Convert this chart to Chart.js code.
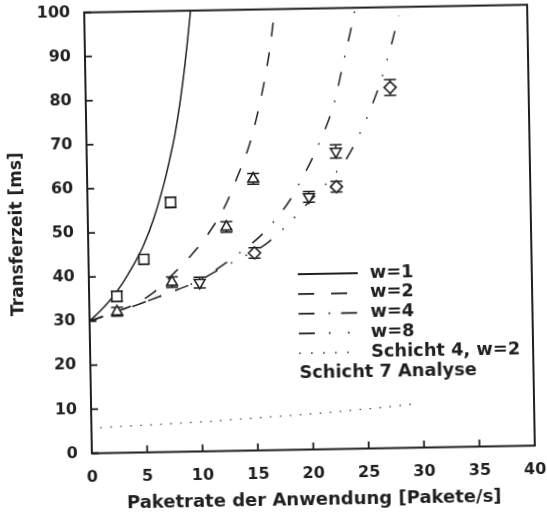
<!DOCTYPE html>
<html>
<head>
<meta charset="utf-8">
<script src="https://cdn.jsdelivr.net/npm/chart.js@4.4.1/dist/chart.umd.min.js"></script>
<style>
  html, body { margin: 0; padding: 0; background: #fff; overflow: hidden; }
  #wrap { position: relative; width: 547px; height: 513px; transform: rotate(-1deg); transform-origin: 309.5px 229px; }
  canvas { display: block; }
</style>
</head>
<body>
<div id="wrap"><canvas id="chart" width="547" height="513"></canvas></div>
<script>
// ---- Analytical curves (Schicht 7 analysis), transfer time over packet rate ----
const rateW1 = [0, 1, 2, 3, 4, 5, 6, 7, 7.5, 8, 8.5, 9, 9.3, 9.6];
const timeW1 = [30, 32.3, 35, 38.3, 42.3, 47, 53.3, 61.5, 66.5, 72, 79, 87.5, 93.5, 100];

const rateW2 = [0, 2, 3.9, 5.8, 7.6, 9.2, 10.9, 12.5, 13.6, 14.7, 15.4, 16.1, 16.7, 17.1, 17.2];
const timeW2 = [30, 31.7, 33.4, 36.2, 40.3, 44.3, 49.5, 56, 62.3, 69.3, 75.5, 83, 91, 98, 100];

const rateW4 = [0, 2, 4, 6, 8, 10, 12, 14, 15.5, 17, 18.3, 19.3, 20.3, 21.2, 22, 22.6, 23.1, 23.6, 24.1, 24.5];
const timeW4 = [30, 31.6, 33.2, 35, 36.8, 38.8, 42, 45.5, 48.5, 52.5, 56.7, 61, 65.7, 70.5, 75.3, 80, 85.3, 90.5, 95.6, 100];

const rateW8 = [0, 2, 4, 6, 8, 10, 12, 14, 16, 18, 19.5, 21.5, 23.5, 24.8, 25.9, 26.9, 27.7, 28.4];
const timeW8 = [30, 31.6, 33.2, 35, 36.8, 38.8, 41.5, 44, 46.7, 51, 54.9, 60, 66, 72, 78.2, 85, 91.7, 98];

// Schicht 4, w=2
const rateL4 = [0.8, 5, 10, 15, 20, 25, 29.6];
const timeL4 = [5.8, 6.2, 6.7, 7.4, 8.1, 9.0, 10.0];

// ---- Measured values with error ranges ----
const rateW1Meas = [2.5, 5, 7.5];
const timeW1Meas = [35.5, 43.8, 56.6];
const errW1Meas  = [1.2, 0, 1.2];

const rateW2Meas = [2.5, 7.5, 12.5, 15];
const timeW2Meas = [32, 38.5, 50.8, 61.6];
const errW2Meas  = [1.0, 1.2, 1.2, 1.2];

const rateW4Meas = [10, 20, 22.5];
const timeW4Meas = [38.3, 57.3, 67.5];
const errW4Meas  = [1.2, 1.2, 1.5];

const rateW8Meas = [15, 22.5, 27.5];
const timeW8Meas = [44.8, 59.5, 81.8];
const errW8Meas  = [1.2, 1.2, 1.8];

// ---- Axis settings ----
const xMin = 0, xMax = 40, xStep = 5;
const yMin = 0, yMax = 100, yStep = 10;
const xTitle = 'Paketrate der Anwendung [Pakete/s]';
const yTitle = 'Transferzeit [ms]';
const analysisCaption = 'Schicht 7 Analyse';

const INK = '#1f1f1f';
const FONT = '"DejaVu Sans", "Liberation Sans", sans-serif';

const pts = (xs, ys) => xs.map((x, i) => ({ x, y: ys[i] }));

function curve(label, xs, ys, dash, legendDash, width, color) {
  return {
    type: 'scatter', label, data: pts(xs, ys), showLine: true,
    borderColor: color || INK, borderWidth: width || 1.5, borderDash: dash,
    pointRadius: 0, cubicInterpolationMode: 'monotone', fill: false,
    legendDash, order: 2
  };
}

function measured(label, xs, ys, errs, style, radius, rotation) {
  return {
    type: 'scatter', label, data: pts(xs, ys), yErr: errs,
    pointStyle: style, pointRadius: radius, pointRotation: rotation || 0,
    pointBorderWidth: 1.6, borderColor: INK, pointBorderColor: INK,
    pointBackgroundColor: '#ffffff', backgroundColor: '#ffffff',
    showLine: false, order: 1
  };
}

const datasets = [
  measured('Messung w=1', rateW1Meas, timeW1Meas, errW1Meas, 'rect', 7),
  measured('Messung w=2', rateW2Meas, timeW2Meas, errW2Meas, 'triangle', 6.2),
  measured('Messung w=4', rateW4Meas, timeW4Meas, errW4Meas, 'triangle', 6.2, 180),
  measured('Messung w=8', rateW8Meas, timeW8Meas, errW8Meas, 'rectRot', 6),
  curve('w=1', rateW1, timeW1, [], [], 1.5),
  curve('w=2', rateW2, timeW2, [14, 16], [16, 17], 1.5),
  curve('w=4', rateW4, timeW4, [14, 15, 1.5, 15], [16, 14, 1.6, 11, 16, 100], 1.5),
  curve('w=8', rateW8, timeW8, [14, 15, 1.5, 15, 1.5, 15], [16, 14, 1.6, 17.5, 1.6, 100], 1.5),
  curve('Schicht 4, w=2', rateL4, timeL4, [1.5, 8.5], [1.5, 10.5], 1.3, '#444')
];

// Error ranges drawn beneath the markers
const errorBars = {
  id: 'errorBars',
  beforeDatasetsDraw(chart) {
    const { ctx, scales: { x, y } } = chart;
    ctx.save();
    ctx.strokeStyle = INK;
    ctx.lineWidth = 1.5;
    chart.data.datasets.forEach(ds => {
      if (!ds.yErr) return;
      ds.data.forEach((p, i) => {
        const e = ds.yErr[i];
        if (!e) return;
        const px = x.getPixelForValue(p.x);
        const top = y.getPixelForValue(p.y + e);
        const bot = y.getPixelForValue(p.y - e);
        ctx.beginPath();
        ctx.moveTo(px, top); ctx.lineTo(px, bot);
        ctx.moveTo(px - 6, top); ctx.lineTo(px + 6, top);
        ctx.moveTo(px - 6, bot); ctx.lineTo(px + 6, bot);
        ctx.stroke();
      });
    });
    ctx.restore();
  }
};

// Plot frame with tick marks pointing inwards
const frame = {
  id: 'frame',
  afterDraw(chart) {
    const { ctx, chartArea: a, scales: { x, y } } = chart;
    ctx.save();
    ctx.strokeStyle = INK;
    ctx.lineWidth = 1.8;
    ctx.beginPath();
    x.ticks.forEach(t => {
      const px = x.getPixelForValue(t.value);
      ctx.moveTo(px, a.bottom); ctx.lineTo(px, a.bottom - 7);
    });
    y.ticks.forEach(t => {
      const py = y.getPixelForValue(t.value);
      ctx.moveTo(a.left, py); ctx.lineTo(a.left + 7, py);
    });
    ctx.stroke();
    ctx.lineWidth = 2;
    ctx.strokeRect(a.left, a.top, a.width, a.height);
    ctx.restore();
  }
};

// Line-style key inside the plot area
const curveLegend = {
  id: 'curveLegend',
  afterDraw(chart) {
    const { ctx } = chart;
    const x0 = 297, x1 = 357, tx = 369, y0 = 274, dy = 19.8;
    ctx.save();
    ctx.font = 'bold 17.8px ' + FONT;
    ctx.textBaseline = 'middle';
    ctx.textAlign = 'left';
    ctx.fillStyle = INK;
    let row = 0;
    chart.data.datasets.forEach(ds => {
      if (!ds.legendDash) return;
      const yy = y0 + row * dy;
      ctx.beginPath();
      ctx.setLineDash(ds.legendDash);
      ctx.lineWidth = 1.8;
      ctx.strokeStyle = ds.borderColor;
      ctx.moveTo(x0, yy); ctx.lineTo(x1, yy);
      ctx.stroke();
      ctx.setLineDash([]);
      ctx.fillText(ds.label, tx, yy);
      row++;
    });
    ctx.fillText(analysisCaption, x0, y0 + row * dy);
    ctx.restore();
  }
};

Chart.defaults.font.family = FONT;
Chart.defaults.font.weight = 'bold';
Chart.defaults.color = INK;

new Chart(document.getElementById('chart'), {
  type: 'scatter',
  data: { datasets },
  options: {
    responsive: false,
    animation: false,
    devicePixelRatio: 1,
    layout: { padding: { left: 0, right: 16, top: 8.5, bottom: 0 } },
    plugins: { legend: { display: false }, tooltip: { enabled: false } },
    scales: {
      x: {
        type: 'linear', min: xMin, max: xMax,
        ticks: { stepSize: xStep, padding: 0, font: { size: 16, weight: 'bold' }, color: INK },
        // grid hidden; the tick length only sets the label offset (inward ticks are drawn by the frame plugin)
        grid: { display: false, drawTicks: true, tickLength: 15 },
        border: { display: false },
        title: { display: true, text: xTitle, color: INK, font: { size: 18, weight: 'bold' }, padding: { top: 0, bottom: 2 } },
        afterFit(s) { s.height = 63.5; }
      },
      y: {
        type: 'linear', min: yMin, max: yMax,
        ticks: { stepSize: yStep, padding: 0, font: { size: 16, weight: 'bold', lineHeight: 1.06 }, color: INK },
        grid: { display: false, drawTicks: true, tickLength: 14 },
        border: { display: false },
        title: { display: true, text: yTitle, color: INK, font: { size: 17, weight: 'bold' }, padding: { top: 7, bottom: 0 } },
        afterFit(s) { s.width = 88; }
      }
    }
  },
  plugins: [errorBars, frame, curveLegend]
});
</script>
</body>
</html>
